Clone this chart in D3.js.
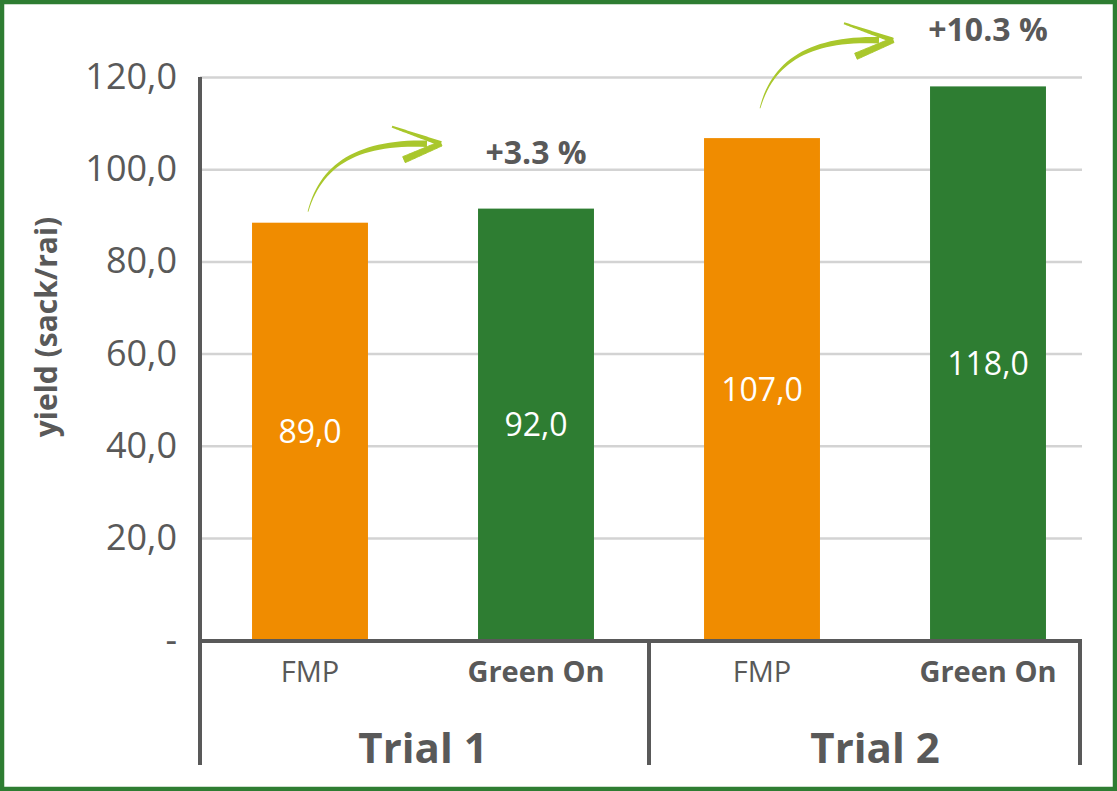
<!DOCTYPE html>
<html>
<head>
<meta charset="utf-8">
<script src="https://cdn.jsdelivr.net/npm/d3@7"></script>
<style>
  body { margin: 0; background: #fff; }
  svg { display: block; font-family: "Open Sans", sans-serif; }
</style>
</head>
<body>
<svg></svg>
<script>
var trials = ["Trial 1", "Trial 2"];
var treatments = ["FMP", "Green On"];
var yieldFMP = [89.0, 107.0];
var yieldGreenOn = [92.0, 118.0];
var gains = ["+3.3 %", "+10.3 %"];
var yTicks = [0, 20, 40, 60, 80, 100, 120];

var width = 1117;
var height = 791;
var textColor = "#595959";
var orange = "#f08c00";
var green = "#2e7d32";
var lime = "#a9c72c";

var svg = d3.select("svg")
              .attr("width", width)
              .attr("height", height);

// flatten into bars
var bars = [];
trials.forEach(function (t, i) {
  bars.push({trial: i, name: treatments[0], value: yieldFMP[i], color: orange});
  bars.push({trial: i, name: treatments[1], value: yieldGreenOn[i], color: green});
});
bars.forEach(function (d, i) { d.id = i; });

var plotLeft = 200, plotRight = 1080, plotBase = 641, plotTop = 77;

var x = d3.scaleBand().domain(bars.map(d => d.id)).range([197, 1101]);
var barW = x.bandwidth() * 0.513;
var cx = function (id) { return x(id) + x.bandwidth() / 2; };

var y = d3.scaleLinear().domain([0, 120]).range([plotBase, plotTop]);
// gridlines in the picture sit a bit above the bar scale near zero
var gy = d3.scaleLinear().domain([0, 20, 120]).range([plotBase, 538, plotTop]);

var fmt = function (v) { return v === 0 ? "-" : d3.format(".1f")(v).replace(".", ","); };

// outer border
svg.append("rect")
    .attr("x", 2).attr("y", 2)
    .attr("width", width - 4).attr("height", height - 4)
    .attr("fill", "#fff")
    .attr("stroke", green)
    .attr("stroke-width", 4.5);

// gridlines
svg.append("g")
    .attr("transform", `translate(${plotLeft},0)`)
    .call(d3.axisLeft(gy).tickValues(yTicks.filter(t => t > 0)).tickSize(-(plotRight - plotLeft + 2)).tickFormat(""))
    .call(g => g.select(".domain").remove())
    .call(g => g.selectAll("line").attr("stroke", "#d3d3d3").attr("stroke-width", 2.5));

// y tick labels
svg.append("g")
    .attr("transform", `translate(${plotLeft},0)`)
    .call(d3.axisLeft(gy).tickValues(yTicks).tickSize(0).tickPadding(23).tickFormat(fmt))
    .call(g => g.select(".domain").remove())
    .call(g => g.selectAll("text")
        .attr("fill", textColor)
        .style("font-size", "36px")
        .style("font-family", "'Open Sans', sans-serif"));

// y title
svg.append("text")
    .attr("transform", "translate(57,327) rotate(-90)")
    .attr("text-anchor", "middle")
    .attr("fill", textColor)
    .style("font-size", "30px")
    .style("font-weight", "bold")
    .text("yield (sack/rai)");

// bars
svg.selectAll("rect.bar")
    .data(bars)
    .enter()
    .append("rect")
      .attr("class", "bar")
      .attr("x", d => cx(d.id) - barW / 2)
      .attr("y", d => y(d.value))
      .attr("width", barW)
      .attr("height", d => y(0) - y(d.value))
      .attr("fill", d => d.color);

// value labels
svg.selectAll("text.val")
    .data(bars)
    .enter()
    .append("text")
      .attr("class", "val")
      .attr("x", d => cx(d.id))
      .attr("y", d => (y(d.value) + y(0)) / 2 + 11)
      .attr("text-anchor", "middle")
      .attr("fill", "#fff")
      .style("font-size", "32px")
      .text(d => fmt(d.value));

// axes frame
var axisG = svg.append("g")
    .attr("stroke", textColor)
    .attr("stroke-width", 4);
axisG.append("line")
    .attr("x1", plotLeft).attr("x2", plotLeft)
    .attr("y1", plotTop).attr("y2", 765);
axisG.append("line")
    .attr("x1", plotLeft).attr("x2", plotRight + 2)
    .attr("y1", plotBase).attr("y2", plotBase);
var sep = [(cx(1) + cx(2)) / 2, plotRight];
axisG.selectAll("line.sep")
    .data(sep)
    .enter()
    .append("line")
      .attr("class", "sep")
      .attr("x1", d => d).attr("x2", d => d)
      .attr("y1", plotBase).attr("y2", 765);

// category labels
svg.selectAll("text.cat")
    .data(bars)
    .enter()
    .append("text")
      .attr("class", "cat")
      .attr("x", d => cx(d.id))
      .attr("y", 682)
      .attr("text-anchor", "middle")
      .attr("fill", textColor)
      .style("font-size", "29px")
      .style("font-weight", d => d.name === "Green On" ? "bold" : "normal")
      .text(d => d.name);

svg.selectAll("text.trial")
    .data(trials)
    .enter()
    .append("text")
      .attr("class", "trial")
      .attr("x", (d, i) => (cx(i * 2) + cx(i * 2 + 1)) / 2)
      .attr("y", 763)
      .attr("text-anchor", "middle")
      .attr("fill", textColor)
      .style("font-size", "42px")
      .style("font-weight", "bold")
      .text(d => d);

// tapered stroke along a cubic bezier
function taper(p, w0, w1) {
  var l = [], r = [];
  for (var k = 0; k <= 30; k++) {
    var t = k / 30, u = 1 - t;
    var px = u*u*u*p[0][0] + 3*u*u*t*p[1][0] + 3*u*t*t*p[2][0] + t*t*t*p[3][0];
    var py = u*u*u*p[0][1] + 3*u*u*t*p[1][1] + 3*u*t*t*p[2][1] + t*t*t*p[3][1];
    var dx = 3*u*u*(p[1][0]-p[0][0]) + 6*u*t*(p[2][0]-p[1][0]) + 3*t*t*(p[3][0]-p[2][0]);
    var dy = 3*u*u*(p[1][1]-p[0][1]) + 6*u*t*(p[2][1]-p[1][1]) + 3*t*t*(p[3][1]-p[2][1]);
    var len = Math.sqrt(dx*dx + dy*dy) || 1;
    var w = (w0 + (w1 - w0) * t) / 2;
    l.push([px - dy/len*w, py + dx/len*w]);
    r.push([px + dy/len*w, py - dx/len*w]);
  }
  return d3.line()(l.concat(r.reverse())) + "Z";
}
function seg(a, b) { return [a, [a[0]+(b[0]-a[0])/3, a[1]+(b[1]-a[1])/3], [a[0]+2*(b[0]-a[0])/3, a[1]+2*(b[1]-a[1])/3], b]; }

// gain annotations with arrows
trials.forEach(function (t, i) {
  var gx = cx(i * 2 + 1), gyTop = y(yieldGreenOn[i]);
  // arrow starts above the FMP bar, between the two bar tops
  var sx = cx(i * 2) - 2, sy = (y(yieldFMP[i]) + gyTop) / 2 - 4;
  var shaft = [[sx, sy], [sx+13, sy-48], [sx+51, sy-70], [sx+119, sy-68]];
  var tip = [sx+133, sy-68];
  var g = svg.append("g").attr("fill", lime);
  g.append("path").attr("d", taper(shaft, 0.8, 6.5));
  g.append("path").attr("d", taper(seg([sx+84, sy-85], tip), 2, 5));
  g.append("path").attr("d", taper(seg(tip, [sx+96, sy-52]), 5, 6.5))
      .attr("stroke", lime).attr("stroke-width", 1).attr("stroke-linejoin", "round");

  svg.append("text")
      .attr("x", gx)
      .attr("y", gyTop - 45)
      .attr("text-anchor", "middle")
      .attr("fill", textColor)
      .style("font-size", "32px")
      .style("font-weight", "bold")
      .text(gains[i]);
});
</script>
</body>
</html>
